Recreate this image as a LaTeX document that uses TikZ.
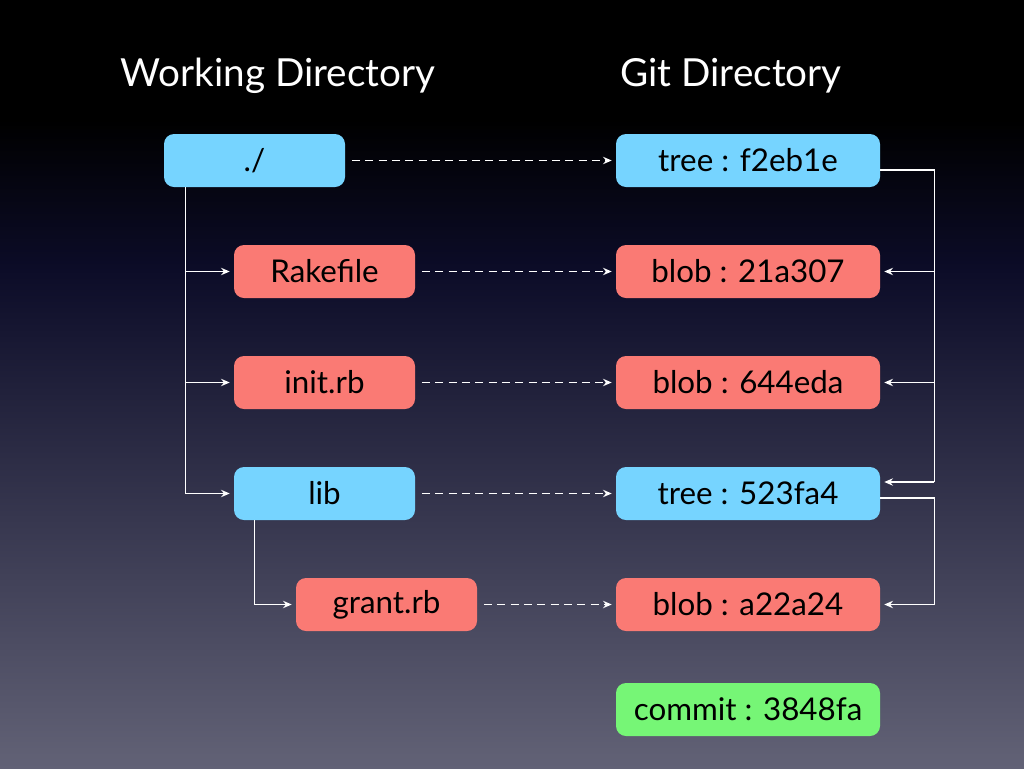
\documentclass[tikz,border=0pt]{standalone}
\usepackage{fontspec}
\setmainfont{Lato}
\usetikzlibrary{calc,arrows.meta}
\definecolor{bluebox}{RGB}{118,212,255}
\definecolor{redbox}{RGB}{250,122,116}
\definecolor{greenbox}{RGB}{118,246,118}
\definecolor{bgtop}{RGB}{0,0,0}
\definecolor{bgmid}{RGB}{12,12,40}
\definecolor{bgbot}{RGB}{98,98,118}
\begin{document}
\begin{tikzpicture}[x=0.75pt,y=-0.75pt,
  box/.style={rounded corners=7.5pt,inner sep=0pt,minimum height=39.75pt,font=\fontsize{23.5}{26}\selectfont,text=black},
  lbox/.style={box,minimum width=135.75pt},
  rbox/.style={box,minimum width=198pt},
  blu/.style={fill=bluebox},
  rd/.style={fill=redbox},
  grn/.style={fill=greenbox},
  head/.style={font=\fontsize{29}{32}\selectfont,text=white},
  conn/.style={draw=white,line width=1.1pt},
  arr/.style={conn,-{Stealth[length=6.5pt,width=5.5pt]},shorten >=3pt},
  dsh/.style={conn,dash pattern=on 6pt off 4pt,-{Stealth[length=6.5pt,width=5.5pt]},shorten <=5pt,shorten >=3pt}
]
\useasboundingbox (0,0) rectangle (1024,768);
\fill[bgtop] (0,0) rectangle (1024,120);
\shade[top color=bgtop,bottom color=bgmid] (0,119.5) rectangle (1024,270);
\shade[top color=bgmid,bottom color=bgbot] (0,269.5) rectangle (1024,768);

\node[head] (hw) at (278,76) {Working Directory};
\node[head] (hg) at (731,76) {Git Directory};

\node[lbox,blu] (wd) at (254.5,160.5) {./};
\node[lbox,rd] (rake) at (324.5,271.5) {Rakefile};
\node[lbox,rd] (init) at (324.5,382.5) {init.rb};
\node[lbox,blu] (lib) at (324.5,493.5) {lib};
\node[lbox,rd] (grant) at (386.5,604.5) {grant.rb};

\node[rbox,blu] (g1) at (748,160.5) {tree : f2eb1e};
\node[rbox,rd] (g2) at (748,271.5) {blob : 21a307};
\node[rbox,rd] (g3) at (748,382.5) {blob : 644eda};
\node[rbox,blu] (g4) at (748,493.5) {tree : 523fa4};
\node[rbox,rd] (g5) at (748,604.5) {blob : a22a24};
\node[rbox,grn] (g6) at (748,709.5) {commit : 3848fa};

% working directory tree
\coordinate (t1) at ($(wd.south west)+(22,0)$);
\draw[conn] (t1) -- (t1 |- lib.west);
\draw[arr] (t1 |- rake.west) -- (rake.west);
\draw[arr] (t1 |- init.west) -- (init.west);
\draw[arr] (t1 |- lib.west) -- (lib.west);
\coordinate (t2) at ($(lib.south west)+(21,0)$);
\draw[conn] (t2) -- (t2 |- grant.west);
\draw[arr] (t2 |- grant.west) -- (grant.west);

% dashed mappings
\draw[dsh] (wd.east) -- (g1.west);
\draw[dsh] (rake.east) -- (g2.west);
\draw[dsh] (init.east) -- (g3.west);
\draw[dsh] (lib.east) -- (g4.west);
\draw[dsh] (grant.east) -- (g5.west);

% git tree
\coordinate (o1) at ($(g1.east)+(0,9.5)$);
\coordinate (v1) at ($(o1)+(54,0)$);
\coordinate (i4) at ($(g4.east)+(0,-11.5)$);
\draw[conn] (o1) -- (v1) -- (v1 |- i4);
\draw[arr] (v1 |- g2.east) -- (g2.east);
\draw[arr] (v1 |- g3.east) -- (g3.east);
\draw[arr] (v1 |- i4) -- (i4);
\coordinate (o4) at ($(g4.east)+(0,4.5)$);
\coordinate (v4) at ($(o4)+(54,0)$);
\draw[conn] (o4) -- (v4) -- (v4 |- g5.east);
\draw[arr] (v4 |- g5.east) -- (g5.east);
\end{tikzpicture}
\end{document}
